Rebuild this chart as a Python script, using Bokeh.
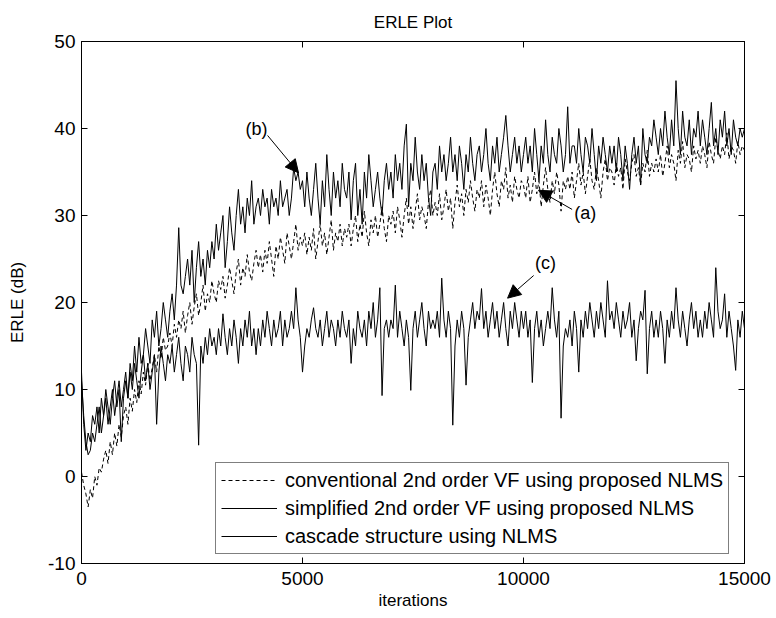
from bokeh.plotting import figure
from bokeh.models import (Range1d, LinearAxis, FixedTicker, Legend, LegendItem,
                          Label, Arrow, NormalHead, CustomJSTickFormatter)
from bokeh.embed import file_html
from bokeh.resources import INLINE

# ---------------- data ----------------
step = 50  # iterations between samples
x_ticks = [0, 5000, 10000, 15000]
x_tick_labels = ["0", "5000", "10000", "15000"]
y_ticks = [-10, 0, 10, 20, 30, 40, 50]
y_tick_labels = ["-10", "0", "10", "20", "30", "40", "50"]

label_a = "conventional 2nd order VF using proposed NLMS"
label_b = "simplified 2nd order VF using proposed NLMS"
label_c = "cascade structure using NLMS"

erle_a = [
    0.5, -1, -2, -3.5, -1.5, -2.5, 0, -1, 1, 0.5, 2, 3, 1.5, 4, 2.5, 5, 3.5, 6, 4.5, 7,
    8, 6, 9, 7.5, 10, 8.5, 11, 9.5, 12, 10.5, 13, 11, 12.5, 14, 12, 15, 13.5, 16, 14.5, 15,
    16.5, 15, 17.5, 16, 18, 17, 19, 16.5, 18.5, 20, 17.5, 19.5, 21, 18.5, 20, 22, 19, 21, 20, 22.5,
    21, 20, 22.5, 21.5, 23, 20.5, 22, 24, 22.5, 21, 23.5, 25, 22, 24, 23, 25.5, 23.5, 22.5, 24.5, 26,
    24, 25.5, 23.5, 26, 24.5, 27, 25, 23, 26.5, 25, 27.5, 26, 24.5, 28, 26.5, 25, 27, 29, 26, 27.5,
    26.5, 28, 25.5, 27.5, 26, 28.5, 25, 27, 29, 26.5, 28, 25.5, 27.5, 29.5, 26, 28, 27, 29, 26.5, 28.5,
    27.5, 29, 26.5, 28.5, 30, 27, 29, 27.5, 30.5, 28, 26.5, 29.5, 28, 30, 27.5, 29, 31, 28.5, 27, 30,
    29, 30.5, 28, 31, 29.5, 27.5, 30, 32, 29, 31, 28.5, 30.5, 32.5, 29.5, 31, 30, 28.5, 31.5, 33, 30,
    31.5, 30, 32.5, 29.5, 31, 33, 30.5, 32, 28.5, 31.5, 33.5, 31, 32.5, 30, 33, 31.5, 34, 32, 30.5, 33,
    32, 34, 31, 33.5, 32, 30, 33, 35, 32.5, 31, 34, 33, 35.5, 32, 33.5, 31.5, 34.5, 33, 32, 34,
    33.5, 32, 34.5, 31.5, 33, 35, 32.5, 34, 31, 33.5, 35.5, 33, 31.5, 34, 32.5, 35, 33.5, 30.5, 34, 33,
    34.5, 33, 35, 32, 34, 36, 33.5, 35, 32.5, 34.5, 36.5, 34, 33, 35.5, 34, 32, 35, 36.5, 34, 35.5,
    35, 33.5, 36, 34.5, 35.5, 33, 36.5, 35, 34, 36, 37, 34.5, 35.5, 33.5, 36, 35, 37.5, 34.5, 36, 35,
    36.5, 35, 37, 34.5, 36, 38, 35.5, 37, 36, 34, 37.5, 36, 38.5, 35.5, 37, 36.5, 35, 38, 36.5, 37.5,
    36, 38, 37, 35.5, 38.5, 37, 36, 39, 37.5, 36.5, 38, 37, 39.5, 36.5, 38, 37.5, 36, 38.5, 37, 38,
    37.5,
]

erle_b = [
    11, 7, 4, 2.5, 3, 5, 4, 6, 8, 5, 7, 9, 6, 8, 10, 7, 9, 11, 8, 10,
    12, 9, 13, 11, 15, 12, 16, 13, 14, 17, 15, 13, 18, 16, 19, 15, 17, 20, 18, 16,
    19, 21, 18, 22, 28.6, 22, 21, 23, 25, 22, 26, 20, 24, 27, 23, 25, 22, 26, 24, 27,
    25, 29, 26, 28, 30, 24, 27, 31, 28, 26, 30, 33, 29, 31, 28, 32, 30, 34, 29, 31,
    32, 30, 33, 31, 32, 29, 33, 31, 32, 30, 34, 31, 32, 33, 30, 32, 35.5, 34, 35, 33,
    34, 31, 35, 32, 30, 33, 36, 32, 29, 34, 31, 37, 33, 30, 35, 32, 34, 31, 36, 33,
    32, 35, 29.5, 34, 36, 30, 33, 29, 35, 32, 37, 34, 31, 33, 35, 32, 30, 34, 36, 33,
    35, 32, 37, 34, 36, 33, 38, 40.5, 31, 36, 34, 39, 35, 33, 37, 34, 36, 32, 30, 35,
    36, 33, 38, 35, 37, 34, 36, 39, 35, 37, 34, 38, 36, 33, 37, 35, 39, 36, 34, 37,
    38, 35, 37, 40, 36, 34, 38, 36, 39, 35, 37, 39, 41.5, 38, 35, 37, 39, 36, 38, 35,
    37, 39, 36, 38, 35, 40, 37, 34, 38, 36, 41, 37, 35, 39, 37, 36, 40, 38, 35, 37,
    42.5, 36, 38, 38, 36, 40, 37, 35, 39, 38, 36, 40, 37, 34, 38, 36, 39, 37, 35, 38,
    36, 38, 35, 39, 37, 34, 38, 36, 33, 37, 39, 36, 38, 33.5, 40, 37, 36, 39, 38, 41,
    39, 37, 40, 38, 42, 39, 37, 41, 38, 45.5, 40, 37, 42, 39, 38, 41, 37, 40, 39, 42,
    38, 41, 39, 37, 40, 43, 38, 40, 37, 41, 39, 42, 38, 40, 37, 41, 39, 38, 40, 39,
    40,
]

erle_c = [
    12, 6, 3, 5, 4, 7, 6, 8, 5, 9, 7, 10, 8, 6, 9, 11, 8, 10, 4, 9,
    11, 9, 12, 10, 13, 11, 9, 12, 14, 11, 13, 10, 12, 14, 6, 12, 15, 13, 11, 14,
    13, 15, 12, 14, 16, 13, 11, 15, 14, 12, 16, 14, 13, 3.6, 15, 13, 16, 14, 17, 15,
    16, 14, 17, 15, 18.7, 16, 14, 17, 15, 18, 16, 13, 17, 15, 18, 16, 19, 15, 17, 14,
    17, 15, 18, 16, 19, 17, 15, 18, 16, 17, 19, 15, 18, 16, 17, 19, 17, 21.7, 18, 16,
    12, 15, 17, 16, 18, 19.4, 17, 16, 18, 15, 17, 19, 16, 18, 17, 15, 18, 16, 19, 17,
    16, 18, 13, 17, 15, 19, 17, 16, 18, 15, 19, 17, 20, 16, 18, 21.7, 9.3, 17, 18, 16,
    18, 17, 22, 16, 19, 17, 15, 18, 16, 9.9, 17, 19, 16, 18, 20, 17, 15, 19, 17, 18,
    17, 19, 16, 22.8, 18, 16, 19, 17, 5.9, 15, 18, 16, 19, 17, 10.5, 16, 18, 20, 17, 19,
    18, 21.6, 17, 19, 16, 18, 20, 17, 19, 16, 18, 20, 17, 15, 19, 17, 20, 18, 16, 19,
    17, 19, 16, 18, 10.8, 17, 19, 16, 18, 15, 17, 19, 17, 21.7, 18, 16, 19, 6.7, 15, 17,
    16, 18, 15, 19, 17, 12, 18, 16, 19, 17, 20, 18, 16, 19, 17, 20, 18, 16, 22.5, 18,
    19, 17, 20, 18, 16, 19, 17, 18, 20, 16, 18, 13.3, 17, 19, 18, 21.4, 11.8, 17, 19, 16,
    18, 16, 19, 17, 13, 18, 16, 19, 17, 21.7, 18, 16, 19, 17, 15, 18, 20, 17, 19, 16,
    18, 16, 19, 17, 20, 18, 16, 24, 19, 17, 18, 21, 16, 19, 17, 15, 12.2, 18, 16, 19,
    17,
]

iters_a = [i * step for i in range(len(erle_a))]
iters_b = [i * step for i in range(len(erle_b))]
iters_c = [i * step for i in range(len(erle_c))]

# annotation anchors (data coordinates)
ann_text = ["(a)", "(b)", "(c)"]
ann_text_xy = [(11150, 30.3), (3960, 40.0), (10500, 24.5)]
ann_arrow_from = [(11100, 30.7), (4210, 39.2), (10230, 23.1)]
ann_arrow_to = [(10340, 32.9), (4910, 34.9), (9640, 20.5)]

FONT = "Liberation Sans"

p = figure(width=776, height=618, output_backend="svg", toolbar_location=None,
           x_range=Range1d(0, 15000), y_range=Range1d(-10, 50),
           min_border_left=81, min_border_right=32, min_border_top=41,
           min_border_bottom=55, title="ERLE Plot")
p.background_fill_color = "white"
p.border_fill_color = "white"
p.outline_line_color = "black"
p.outline_line_width = 1
p.outline_line_alpha = 1.0
p.xgrid.visible = False
p.ygrid.visible = False

p.title.align = "center"
p.title.text_font = FONT
p.title.text_font_size = "17px"
p.title.text_font_style = "normal"
p.title.text_color = "black"
p.title.standoff = 20

ra = p.line(iters_a, erle_a, line_color="black", line_width=1, line_dash="4 3")
rb = p.line(iters_b, erle_b, line_color="black", line_width=1)
rc = p.line(iters_c, erle_c, line_color="black", line_width=1)


def style_axis(ax, ticks, labels=None):
    ax.ticker = FixedTicker(ticks=ticks)
    ax.axis_line_color = "black"
    ax.major_tick_line_color = "black"
    ax.major_tick_in = 6
    ax.major_tick_out = 0
    ax.minor_tick_line_color = None
    ax.major_label_text_font = FONT
    ax.major_label_text_font_size = "19px"
    ax.major_label_text_color = "black"
    ax.axis_label_text_font = FONT
    ax.axis_label_text_font_size = "17px"
    ax.axis_label_text_font_style = "normal"
    ax.axis_label_text_color = "black"
    if labels is not None:
        ax.major_label_overrides = {t: l for t, l in zip(ticks, labels)}


style_axis(p.xaxis[0], x_ticks, x_tick_labels)
style_axis(p.yaxis[0], y_ticks, y_tick_labels)
p.xaxis.axis_label = "iterations"
p.yaxis.axis_label = "ERLE (dB)"
p.xaxis.major_label_standoff = 8
p.yaxis.major_label_standoff = 6
p.xaxis.axis_label_standoff = 3
p.yaxis.axis_label_standoff = 18

blank = CustomJSTickFormatter(code="return ''")
top_ax = LinearAxis(formatter=blank)
style_axis(top_ax, x_ticks)
top_ax.major_label_text_font_size = "1px"
right_ax = LinearAxis(formatter=CustomJSTickFormatter(code="return ''"))
style_axis(right_ax, y_ticks)
right_ax.major_label_text_font_size = "1px"
p.add_layout(top_ax, "above")
p.add_layout(right_ax, "right")

legend = Legend(items=[LegendItem(label=label_a, renderers=[ra]),
                       LegendItem(label=label_b, renderers=[rb]),
                       LegendItem(label=label_c, renderers=[rc])],
                location=(134, 9))
legend.glyph_width = 56
legend.glyph_height = 24
legend.label_height = 24
legend.label_standoff = 8
legend.spacing = 4
legend.padding = 5
legend.margin = 0
legend.border_line_color = "black"
legend.border_line_width = 1
legend.background_fill_color = "white"
legend.background_fill_alpha = 1
legend.label_text_font = FONT
legend.label_text_font_size = "20px"
legend.label_text_color = "black"
p.add_layout(legend)

for txt, (tx, ty), (sx, sy), (ex, ey) in zip(ann_text, ann_text_xy, ann_arrow_from, ann_arrow_to):
    align = "left" if txt == "(a)" else "center"
    p.add_layout(Label(x=tx, y=ty, text=txt, text_align=align, text_baseline="middle",
                       text_font=FONT, text_font_size="18px", text_color="black"))
    p.add_layout(Arrow(end=NormalHead(size=13, fill_color="black", line_color="black"),
                       x_start=sx, y_start=sy, x_end=ex, y_end=ey,
                       line_color="black", line_width=1))

open("out.html", "w").write(file_html(p, INLINE))
